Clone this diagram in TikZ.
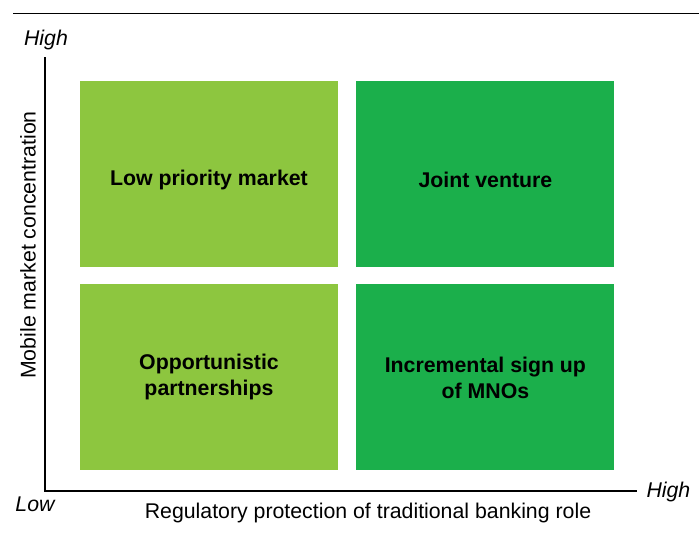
\documentclass[tikz,border=0pt]{standalone}
\usepackage{fontspec}
\setmainfont{Liberation Sans}
\usepackage{xcolor}
\usetikzlibrary{positioning}

\definecolor{lowgreen}{HTML}{8DC63F}
\definecolor{highgreen}{HTML}{1BAF4B}
\newcommand{\lowered}[1]{\raisebox{-6pt}[\height][\depth]{#1}}

\begin{document}
\begin{tikzpicture}
    [x=1pt,y=-1pt,
    quad/.style={shape=rectangle,minimum width=258pt,minimum height=186pt,inner sep=0pt,
      align=center,font=\fontsize{21.3}{26}\selectfont\bfseries},
    light/.style={quad,fill=lowgreen},
    dark/.style={quad,fill=highgreen},
    axis/.style={line width=1.1pt},
    ends/.style={font=\fontsize{21.3}{24}\selectfont\itshape},
    axislabel/.style={font=\fontsize{21.3}{24}\selectfont}]

    \useasboundingbox (0,0) rectangle (699,539);

    \coordinate (rulel) at (13,13);
    \coordinate (ruler) at (699,13);
    \draw [line width=1pt] (rulel) -- (ruler);

    \node (tl) [light] at (209,174) {\lowered{Low priority market}};
    \node (tr) [dark,right=18pt of tl] {\lowered{Joint venture}};
    \node (bl) [light,below=17pt of tl] {Opportunistic\\partnerships};
    \node (br) [dark,right=18pt of bl] {Incremental sign up\\of MNOs};

    \coordinate (origin) at (45,491);
    \coordinate (ytop) at (45,57);
    \coordinate (xend) at (637,491);
    \draw [axis] (ytop) -- (origin) -- (xend);

    \node (yhigh) [ends] at (46,40) {High};
    \node (xlow) [ends] at (35,504) {Low};
    \node (xhigh) [ends,anchor=west] at (643,492) {High};

    \node (ylabel) [axislabel,rotate=90] at (28,245) {Mobile market concentration};
    \node (xlabel) [axislabel] at (368,513) {Regulatory protection of traditional banking role};
\end{tikzpicture}
\end{document}
